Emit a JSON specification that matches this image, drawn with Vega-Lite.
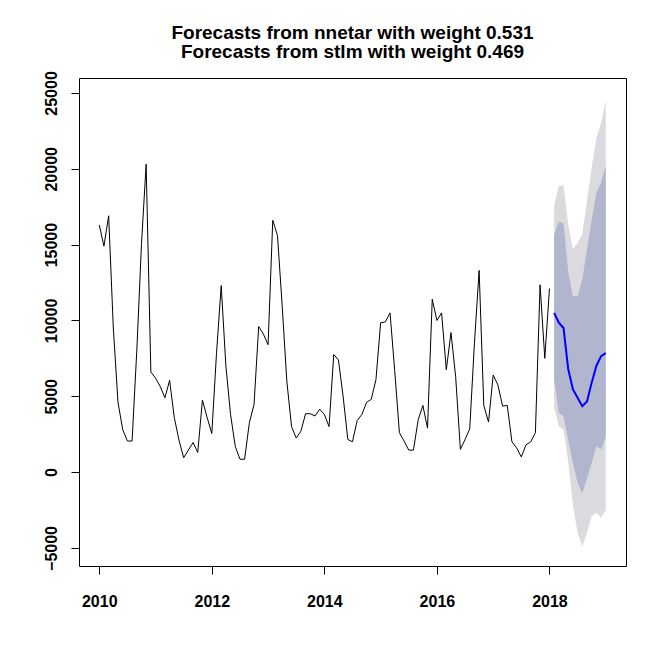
{
  "$schema": "https://vega.github.io/schema/vega-lite/v6.json",
  "width": 547,
  "height": 488,
  "autosize": "none",
  "padding": {"left": 79, "top": 78, "right": 41, "bottom": 100},
  "background": "white",
  "config": {"view": {"stroke": "black", "strokeWidth": 1}},
  "title": {
    "text": ["Forecasts from nnetar with weight 0.531", "Forecasts from stlm with weight 0.469"],
    "font": "Liberation Sans",
    "fontSize": 19,
    "fontWeight": "bold",
    "color": "black",
    "anchor": "middle",
    "lineHeight": 19,
    "offset": 9
  },
  "datasets": {
    "obs": [
      {"t": 2010, "v": 16300}, {"t": 2010.083, "v": 14900}, {"t": 2010.167, "v": 16900}, {"t": 2010.25, "v": 9500},
      {"t": 2010.333, "v": 4600}, {"t": 2010.417, "v": 2800}, {"t": 2010.5, "v": 2050}, {"t": 2010.583, "v": 2050},
      {"t": 2010.667, "v": 8000}, {"t": 2010.75, "v": 15000}, {"t": 2010.833, "v": 20300}, {"t": 2010.917, "v": 6600},
      {"t": 2011, "v": 6200}, {"t": 2011.083, "v": 5650}, {"t": 2011.167, "v": 4900}, {"t": 2011.25, "v": 6050},
      {"t": 2011.333, "v": 3600}, {"t": 2011.417, "v": 2100}, {"t": 2011.5, "v": 950}, {"t": 2011.583, "v": 1450},
      {"t": 2011.667, "v": 1950}, {"t": 2011.75, "v": 1300}, {"t": 2011.833, "v": 4750}, {"t": 2011.917, "v": 3600},
      {"t": 2012, "v": 2550}, {"t": 2012.083, "v": 7800}, {"t": 2012.167, "v": 12300}, {"t": 2012.25, "v": 7000},
      {"t": 2012.333, "v": 3800}, {"t": 2012.417, "v": 1700}, {"t": 2012.5, "v": 850}, {"t": 2012.583, "v": 850},
      {"t": 2012.667, "v": 3250}, {"t": 2012.75, "v": 4450}, {"t": 2012.833, "v": 9600}, {"t": 2012.917, "v": 9100},
      {"t": 2013, "v": 8400}, {"t": 2013.083, "v": 16600}, {"t": 2013.167, "v": 15600}, {"t": 2013.25, "v": 11000},
      {"t": 2013.333, "v": 6000}, {"t": 2013.417, "v": 3000}, {"t": 2013.5, "v": 2250}, {"t": 2013.583, "v": 2700},
      {"t": 2013.667, "v": 3850}, {"t": 2013.75, "v": 3850}, {"t": 2013.833, "v": 3700}, {"t": 2013.917, "v": 4150},
      {"t": 2014, "v": 3800}, {"t": 2014.083, "v": 3000}, {"t": 2014.167, "v": 7750}, {"t": 2014.25, "v": 7400},
      {"t": 2014.333, "v": 5000}, {"t": 2014.417, "v": 2150}, {"t": 2014.5, "v": 2000}, {"t": 2014.583, "v": 3400},
      {"t": 2014.667, "v": 3800}, {"t": 2014.75, "v": 4600}, {"t": 2014.833, "v": 4800}, {"t": 2014.917, "v": 6100},
      {"t": 2015, "v": 9850}, {"t": 2015.083, "v": 9900}, {"t": 2015.167, "v": 10500}, {"t": 2015.25, "v": 6700},
      {"t": 2015.333, "v": 2600}, {"t": 2015.417, "v": 2050}, {"t": 2015.5, "v": 1450}, {"t": 2015.583, "v": 1450},
      {"t": 2015.667, "v": 3450}, {"t": 2015.75, "v": 4400}, {"t": 2015.833, "v": 2900}, {"t": 2015.917, "v": 11400},
      {"t": 2016, "v": 10000}, {"t": 2016.083, "v": 10500}, {"t": 2016.167, "v": 6750}, {"t": 2016.25, "v": 9200},
      {"t": 2016.333, "v": 6300}, {"t": 2016.417, "v": 1500}, {"t": 2016.5, "v": 2150}, {"t": 2016.583, "v": 2850},
      {"t": 2016.667, "v": 8500}, {"t": 2016.75, "v": 13300}, {"t": 2016.833, "v": 4400}, {"t": 2016.917, "v": 3300},
      {"t": 2017, "v": 6400}, {"t": 2017.083, "v": 5750}, {"t": 2017.167, "v": 4350}, {"t": 2017.25, "v": 4400},
      {"t": 2017.333, "v": 2000}, {"t": 2017.417, "v": 1600}, {"t": 2017.5, "v": 1000}, {"t": 2017.583, "v": 1800},
      {"t": 2017.667, "v": 2000}, {"t": 2017.75, "v": 2600}, {"t": 2017.833, "v": 12350}, {"t": 2017.917, "v": 7500},
      {"t": 2018, "v": 12100}
    ],
    "fc": [
      {"t": 2018.083, "mean": 10500, "lo80": 6100, "hi80": 15650, "lo95": 4300, "hi95": 17600},
      {"t": 2018.167, "mean": 9850, "lo80": 3900, "hi80": 16500, "lo95": 3000, "hi95": 18900},
      {"t": 2018.25, "mean": 9500, "lo80": 3700, "hi80": 16400, "lo95": 2800, "hi95": 18900},
      {"t": 2018.333, "mean": 6800, "lo80": 2100, "hi80": 13200, "lo95": 700, "hi95": 16300},
      {"t": 2018.417, "mean": 5450, "lo80": 600, "hi80": 11600, "lo95": -2200, "hi95": 14700},
      {"t": 2018.5, "mean": 4900, "lo80": -700, "hi80": 11600, "lo95": -4000, "hi95": 15100},
      {"t": 2018.583, "mean": 4350, "lo80": -1400, "hi80": 12700, "lo95": -4900, "hi95": 15700},
      {"t": 2018.667, "mean": 4650, "lo80": -400, "hi80": 14700, "lo95": -4000, "hi95": 17900},
      {"t": 2018.75, "mean": 5900, "lo80": 600, "hi80": 16600, "lo95": -2900, "hi95": 20100},
      {"t": 2018.833, "mean": 7000, "lo80": 1700, "hi80": 18400, "lo95": -2700, "hi95": 22000},
      {"t": 2018.917, "mean": 7650, "lo80": 1500, "hi80": 19100, "lo95": -3000, "hi95": 23000},
      {"t": 2019, "mean": 7850, "lo80": 2300, "hi80": 20200, "lo95": -2500, "hi95": 24500}
    ]
  },
  "layer": [
    {
      "data": {"name": "fc"},
      "mark": {"type": "area", "color": "#DBDBDF", "opacity": 1},
      "encoding": {
        "x": {"field": "t", "type": "quantitative", "scale": {"domain": [2009.64, 2019.36], "nice": false, "zero": false},
          "axis": {"values": [2010, 2012, 2014, 2016, 2018], "format": "d", "title": null, "grid": false, "domain": false,
            "tickColor": "black", "tickSize": 8, "labelFont": "Liberation Sans", "labelFontSize": 16, "labelFontWeight": "bold",
            "labelColor": "black", "labelPadding": 19, "labelFlush": false}},
        "y": {"field": "lo95", "type": "quantitative", "scale": {"domain": [-6190, 25985], "nice": false, "zero": false},
          "axis": {"values": [-5000, 0, 5000, 10000, 15000, 20000, 25000], "format": "d", "title": null, "grid": false, "domain": false,
            "tickColor": "black", "tickSize": 8, "labelFont": "Liberation Sans", "labelFontSize": 16, "labelFontWeight": "bold",
            "labelColor": "black", "labelAngle": -90, "labelAlign": "center", "labelBaseline": "bottom", "labelPadding": 12, "labelFlush": false}},
        "y2": {"field": "hi95"}
      }
    },
    {
      "data": {"name": "fc"},
      "mark": {"type": "area", "color": "#B1B5CE", "opacity": 1},
      "encoding": {
        "x": {"field": "t", "type": "quantitative"},
        "y": {"field": "lo80", "type": "quantitative"},
        "y2": {"field": "hi80"}
      }
    },
    {
      "data": {"name": "obs"},
      "mark": {"type": "line", "color": "black", "strokeWidth": 1},
      "encoding": {
        "x": {"field": "t", "type": "quantitative"},
        "y": {"field": "v", "type": "quantitative"}
      }
    },
    {
      "data": {"name": "fc"},
      "mark": {"type": "line", "color": "#0000FF", "strokeWidth": 2},
      "encoding": {
        "x": {"field": "t", "type": "quantitative"},
        "y": {"field": "mean", "type": "quantitative"}
      }
    }
  ]
}
